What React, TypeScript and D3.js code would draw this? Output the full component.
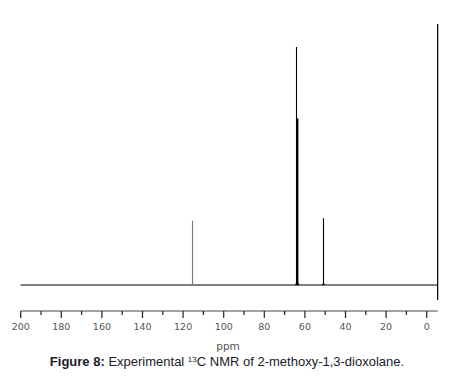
import React from 'react';
import * as d3 from 'd3';

// peak positions (ppm) and relative intensities
const peakShifts = [115.8, 64.3, 63.8, 50.9];
const peakHeights = [0.27, 1.0, 0.7, 0.28];
const peakColors = ['#777', '#000', '#000', '#000'];
const majorTicks = [200, 180, 160, 140, 120, 100, 80, 60, 40, 20, 0];
const minorTicks = [190, 170, 150, 130, 110, 90, 70, 50, 30, 10];

const W = 451;
const H = 389;

const App: React.FC = () => {
  const x = d3.scaleLinear().domain([200, 0]).range([20.7, 426.7]);
  const y = d3.scaleLinear().domain([0, 1]).range([285, 47]);
  const xEnd = x(-5.4);
  const axisY = 311;

  const line = d3.line<[number, number]>().x(d => d[0]).y(d => d[1]);

  return (
    <svg width={W} height={H} style={{ position: 'absolute', left: 0, top: 0, background: '#fff' }}>
      {/* spectrum baseline + right frame */}
      <line x1={x(200)} x2={xEnd} y1={y(0)} y2={y(0)} stroke="#000" strokeWidth={1.2} />
      <line x1={xEnd} x2={xEnd} y1={24} y2={300} stroke="#000" strokeWidth={1.2} />

      {/* peaks */}
      {peakShifts.map((s, i) => {
        const px = Math.round(x(s)) + 0.5;
        const pts: [number, number][] = [
          [px - 1.2, y(0)],
          [px, y(0) - 1.5],
          [px, y(peakHeights[i])],
          [px, y(0) - 1.5],
          [px + 1.2, y(0)],
        ];
        return (
          <path key={i} d={line(pts) || ''} fill="none" stroke={peakColors[i]}
            strokeWidth={i === 2 ? 1.8 : 1.1} />
        );
      })}

      {/* ppm axis */}
      <line x1={x(200)} x2={xEnd} y1={axisY} y2={axisY} stroke="#444" strokeWidth={1} />
      {majorTicks.map(t => (
        <g key={'M' + t} transform={`translate(${x(t)},0)`}>
          <line y1={axisY} y2={axisY + 7} stroke="#222" strokeWidth={1.2} />
          <text y={axisY + 19} textAnchor="middle" fontFamily="DejaVu Sans, sans-serif"
            fontSize={9.5} fill="#555">{t}</text>
        </g>
      ))}
      {minorTicks.map(t => (
        <line key={'m' + t} x1={x(t)} x2={x(t)} y1={axisY} y2={axisY + 4} stroke="#222" strokeWidth={1.2} />
      ))}
      <text x={228} y={350} textAnchor="middle" fontFamily="DejaVu Sans, sans-serif"
        fontSize={10.5} fill="#555">ppm</text>

      {/* caption */}
      <text x={227} y={366} textAnchor="middle" fontFamily="Liberation Sans, Arial, sans-serif"
        fontSize={13} fill="#1a1a2a">
        <tspan fontWeight="bold">Figure 8:</tspan>
        <tspan> Experimental </tspan>
        <tspan fontSize={8} dy={-4}>13</tspan>
        <tspan dy={4}>C NMR of 2-methoxy-1,3-dioxolane.</tspan>
      </text>
    </svg>
  );
};

export default App;
